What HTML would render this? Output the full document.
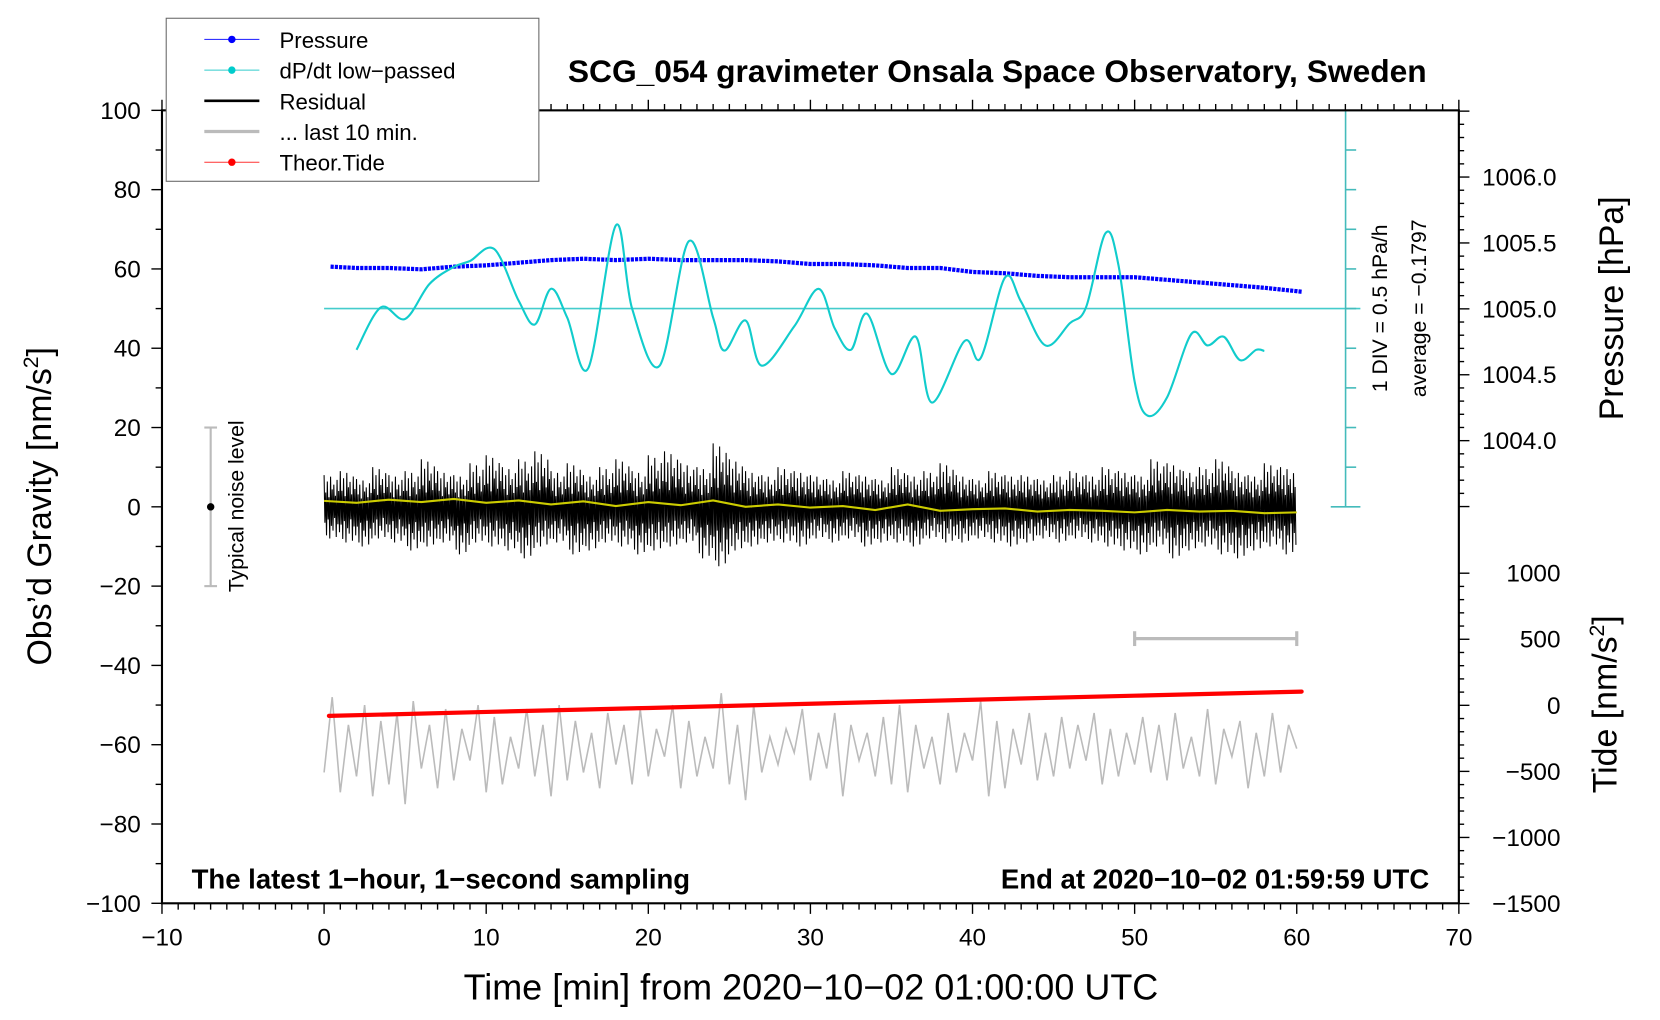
<!DOCTYPE html>
<html><head><meta charset="utf-8"><style>
html,body{margin:0;padding:0;background:#fff;}
svg{display:block;font-family:"Liberation Sans",Arial,sans-serif;}
</style></head><body>
<svg id="chart" width="1660" height="1020" viewBox="0 0 1568 963" xmlns="http://www.w3.org/2000/svg">
<rect x="0" y="0" width="1568" height="963" fill="#fff"/>
<g id="marks"></g>
<g id="axes"></g>
<g id="legend">
  <rect x="157" y="17" width="352" height="154" fill="#fff" stroke="#666" stroke-width="1"/>
  <g><line x1="193" y1="37" x2="245" y2="37" stroke="#33f" stroke-width="1"/><circle cx="219" cy="37" r="3.5" fill="#00f"/><text x="264" y="45" font-size="21">Pressure</text></g>
  <g><line x1="193" y1="66" x2="245" y2="66" stroke="#3cc" stroke-width="1"/><circle cx="219" cy="66" r="3.5" fill="#0cc"/><text x="264" y="74" font-size="21">dP/dt low−passed</text></g>
  <g><line x1="193" y1="95" x2="245" y2="95" stroke="#000" stroke-width="2.5"/><text x="264" y="103" font-size="21">Residual</text></g>
  <g><line x1="193" y1="124" x2="245" y2="124" stroke="#bbb" stroke-width="3"/><text x="264" y="132" font-size="21">... last 10 min.</text></g>
  <g><line x1="193" y1="153" x2="245" y2="153" stroke="#f33" stroke-width="1"/><circle cx="219" cy="153" r="3.5" fill="#f00"/><text x="264" y="161" font-size="21">Theor.Tide</text></g>
</g>
<text x="942" y="77" font-size="30" font-weight="bold" text-anchor="middle">SCG_054 gravimeter Onsala Space Observatory, Sweden</text>
<text x="181" y="839" font-size="26" font-weight="bold">The latest 1−hour, 1−second sampling</text>
<text x="1350" y="839" font-size="26" font-weight="bold" text-anchor="end">End at 2020−10−02 01:59:59 UTC</text>
<text x="766" y="944" font-size="34" text-anchor="middle">Time [min] from 2020−10−02 01:00:00 UTC</text>
<text transform="translate(48,478) rotate(-90)" font-size="32" text-anchor="middle">Obs’d Gravity [nm/s<tspan font-size="20" dy="-12">2</tspan><tspan dy="12">]</tspan></text>
<text transform="translate(1533,291) rotate(-90)" font-size="32" text-anchor="middle">Pressure [hPa]</text>
<text transform="translate(1527,665) rotate(-90)" font-size="32" text-anchor="middle">Tide [nm/s<tspan font-size="20" dy="-12">2</tspan><tspan dy="12">]</tspan></text>
<text transform="translate(1310,291) rotate(-90)" font-size="20" text-anchor="middle">1 DIV = 0.5 hPa/h</text>
<text transform="translate(1347,291) rotate(-90)" font-size="20" text-anchor="middle">average = −0.1797</text>
<text transform="translate(230,478) rotate(-90)" font-size="20" text-anchor="middle">Typical noise level</text>
</svg>
<script>
// ---- data ----
const xTicks = [-10,0,10,20,30,40,50,60,70];
const yTicks = [100,80,60,40,20,0,-20,-40,-60,-80,-100];
const pTicks = [1006.0,1005.5,1005.0,1004.5,1004.0];
const tideTicks = [1000,500,0,-500,-1000,-1500];
const pressureMin = [0.4,2,4,6,8,10,12,14,16,18,20,22,24,26,28,30,32,34,36,38,40,42,44,46,48,50,52,54,56,58,60.3];
const pressureVal = [1005.32,1005.31,1005.31,1005.30,1005.32,1005.33,1005.35,1005.37,1005.38,1005.37,1005.38,1005.37,1005.37,1005.37,1005.36,1005.34,1005.34,1005.33,1005.31,1005.31,1005.28,1005.27,1005.25,1005.24,1005.24,1005.24,1005.22,1005.20,1005.18,1005.16,1005.13];
const dpdtMin = [2,3.5,5,6.5,8,9,10.5,12,13,14,15,16.3,18,19,20.7,22.5,24,24.7,26,27,29,30.5,31.5,32.5,33.5,35,36.5,37.5,39.5,40.5,42,43,44.5,46,47,48.2,49,50,50.8,52,53.5,54.5,55.5,56.5,57.5,58];
const dpdtVal = [39.6,50.3,47.4,56.2,60.5,62,65,52,46,55,47.7,35,71,50,35.6,67,47.7,39.4,47,35.6,45.5,55,45,39.6,48.7,33.5,42.9,26.3,41.8,37.5,57.8,51.7,40.7,46.3,50.3,69,61,31.6,23,27.6,43.6,40.7,42.9,37,39.6,39.3];
const residMax = [8,9,7,10,8,9,12,9,8,11,13,10,12,14,9,11,8,10,12,9,13,14,11,10,16,12,9,8,10,9,8,7,9,8,7,10,8,9,11,8,7,9,8,8,7,8,9,8,10,9,8,12,11,9,10,12,9,8,11,10,8];
const residMin = [-8,-9,-10,-8,-9,-11,-10,-9,-12,-9,-10,-11,-13,-10,-9,-12,-11,-9,-10,-12,-11,-10,-9,-13,-15,-11,-10,-9,-9,-10,-8,-9,-8,-10,-9,-9,-10,-8,-9,-9,-8,-9,-10,-9,-8,-9,-8,-9,-10,-11,-12,-10,-13,-11,-10,-12,-13,-11,-10,-12,-9];
const smoothMin = [0,2,4,6,8,10,12,14,16,18,20,22,24,26,28,30,32,34,36,38,40,42,44,46,48,50,52,54,56,58,60];
const smoothVal = [1.5,1.0,1.8,1.2,2.0,1.0,1.6,0.6,1.4,0.2,1.2,0.4,1.6,0.0,0.6,-0.2,0.2,-0.8,0.6,-1.0,-0.6,-0.4,-1.2,-0.8,-1.0,-1.4,-0.8,-1.2,-1.0,-1.6,-1.4];
const last10Val = [-67,-48,-72,-55,-68,-50,-73,-54,-70,-52,-75,-49,-66,-55,-71,-51,-69,-56,-64,-50,-72,-53,-70,-58,-66,-51,-68,-55,-73,-50,-69,-54,-67,-57,-71,-52,-65,-55,-70,-51,-68,-56,-63,-50,-71,-54,-68,-58,-66,-47,-70,-55,-74,-50,-67,-58,-65,-56,-62,-51,-69,-57,-66,-52,-73,-55,-64,-57,-68,-53,-70,-50,-72,-55,-66,-58,-70,-52,-67,-57,-64,-49,-73,-54,-71,-56,-65,-52,-69,-57,-68,-53,-66,-55,-64,-52,-70,-56,-68,-57,-65,-53,-67,-55,-69,-52,-66,-58,-68,-51,-70,-56,-63,-54,-71,-57,-68,-52,-67,-55,-61];
const tideMin = [0.3,10,20,30,40,50,60.3];
const tideVal = [-80,-50,-20,12,42,73,104];
// ---- scales ----
const L=153,R=1378,T=104,B=853;
const xs = m => L + (m + 10) * (R - L) / 80;
const ys = v => T + (100 - v) * (B - T) / 200;
const yp = p => 167 + (1006 - p) * 124.5;
const yt = t => 666 - t * 0.1248;
const NS="http://www.w3.org/2000/svg";
function mk(tag, attrs, parent){const e=document.createElementNS(NS,tag);for(const k in attrs)e.setAttribute(k,attrs[k]);parent.appendChild(e);return e;}
const marks=document.getElementById('marks'), axes=document.getElementById('axes');
function smoothPath(pts){let d='M'+pts[0][0]+','+pts[0][1];for(let i=0;i<pts.length-1;i++){const p0=pts[Math.max(0,i-1)],p1=pts[i],p2=pts[i+1],p3=pts[Math.min(pts.length-1,i+2)];const c1x=p1[0]+(p2[0]-p0[0])/6,c1y=p1[1]+(p2[1]-p0[1])/6,c2x=p2[0]-(p3[0]-p1[0])/6,c2y=p2[1]-(p3[1]-p1[1])/6;d+=' C'+c1x+','+c1y+' '+c2x+','+c2y+' '+p2[0]+','+p2[1];}return d;}
let el;
el=mk('line',{x1:xs(0),y1:ys(50),x2:1285,y2:ys(50),stroke:'#4cc',"stroke-width":1.5},marks);


el=mk('g',{stroke:'#4bb',"stroke-width":1.5},marks);


mk('line',{x1:1271,y1:ys(100),x2:1271,y2:ys(0)},el);
mk('line',{x1:1257,y1:ys(0),x2:1285,y2:ys(0)},el);
mk('line',{x1:1257,y1:ys(100),x2:1285,y2:ys(100)},el);
for(let v=10;v<100;v+=10) mk('line',{x1:1271,y1:ys(v),x2:1281,y2:ys(v)},el);
let d='';
for(let i=0;i<600;i++){const m=i*0.1;const k=Math.min(60,Math.floor(m));const pat=[1,0.45,0.8,0.3,0.95,0.55,0.7,0.35,0.85,0.5][i%10];d+=(i?'L':'M')+xs(m)+','+ys(residMax[k]*pat)+'L'+xs(m+0.05)+','+ys(residMin[k]*[0.5,0.9,0.4,1,0.6,0.75,0.35,0.95,0.55,0.8][i%10]);}
el=mk('path',{d:d,fill:'none',stroke:'#000',"stroke-width":1},marks);


el=mk('polyline',{points:smoothMin.map((m,i)=>xs(m)+','+ys(smoothVal[i])).join(' '),fill:'none',stroke:'#cc0',"stroke-width":2},marks);


el=mk('polyline',{points:pressureMin.map((m,i)=>xs(m)+','+yp(pressureVal[i])).join(' '),fill:'none',stroke:'#00f',"stroke-width":4,"stroke-linejoin":"round","stroke-dasharray":"3 1"},marks);


el=mk('path',{d:smoothPath(dpdtMin.map((m,i)=>[xs(m),ys(dpdtVal[i])])),fill:'none',stroke:'#1cc',"stroke-width":2},marks);


el=mk('polyline',{points:last10Val.map((v,i)=>xs(i*0.5)+','+ys(v)).join(' '),fill:'none',stroke:'#bbb',"stroke-width":1.5},marks);


el=mk('polyline',{points:tideMin.map((m,i)=>xs(m)+','+yt(tideVal[i])).join(' '),fill:'none',stroke:'#f00',"stroke-width":4,"stroke-linecap":"round"},marks);


el=mk('g',{stroke:'#bbb',"stroke-width":3},marks);


mk('line',{x1:xs(50),y1:603,x2:xs(60),y2:603},el);mk('line',{x1:xs(50),y1:596,x2:xs(50),y2:610},el);mk('line',{x1:xs(60),y1:596,x2:xs(60),y2:610},el);
el=mk('g',{stroke:'#bbb',"stroke-width":2},marks);


mk('line',{x1:199,y1:ys(20),x2:199,y2:ys(-20)},el);mk('line',{x1:193,y1:ys(20),x2:205,y2:ys(20)},el);mk('line',{x1:193,y1:ys(-20),x2:205,y2:ys(-20)},el);
mk('circle',{cx:199,cy:ys(0),r:3.5,fill:'#000',stroke:'none'},el);
el=mk('rect',{x:L,y:T,width:R-L,height:B-T,fill:'none',stroke:'#000',"stroke-width":2},axes);


const tk=mk('g',{stroke:'#000',"stroke-width":1.3},axes);
for(let m=-10;m<=70;m++){const big=m%10===0;mk('line',{x1:xs(m),y1:B,x2:xs(m),y2:B+(big?10:6)},tk);mk('line',{x1:xs(m),y1:T,x2:xs(m),y2:T-(big?10:6)},tk);}
for(let v=-100;v<=100;v+=10){mk('line',{x1:L,y1:ys(v),x2:L-(v%20===0?10:6),y2:ys(v)},tk);}
for(let p=1003.5;p<=1006.5001;p+=0.1){const y=yp(p);if(y<T-0.5||y>ys(0)+0.5)continue;const big=Math.abs(p*2-Math.round(p*2))<0.01;mk('line',{x1:R,y1:y,x2:R+(big?10:5),y2:y},tk);}
for(let t=-1500;t<=1000;t+=100){mk('line',{x1:R,y1:yt(t),x2:R+(t%500===0?10:5),y2:yt(t)},tk);}
xTicks.forEach(m=>{const e=mk('text',{x:xs(m),y:893,"font-size":23,"text-anchor":"middle"},axes);e.textContent=String(m).replace('-','−');

});
yTicks.forEach(v=>{const e=mk('text',{x:133,y:ys(v)+8,"font-size":23,"text-anchor":"end"},axes);e.textContent=String(v).replace('-','−');

});
pTicks.forEach(p=>{const e=mk('text',{x:1400,y:yp(p)+8,"font-size":23},axes);e.textContent=p.toFixed(1);

});
tideTicks.forEach(t=>{const e=mk('text',{x:1474,y:yt(t)+8,"font-size":23,"text-anchor":"end"},axes);e.textContent=String(t).replace('-','−');

});
document.getElementById('chart').appendChild(document.getElementById('legend'));
</script>
</body></html>
